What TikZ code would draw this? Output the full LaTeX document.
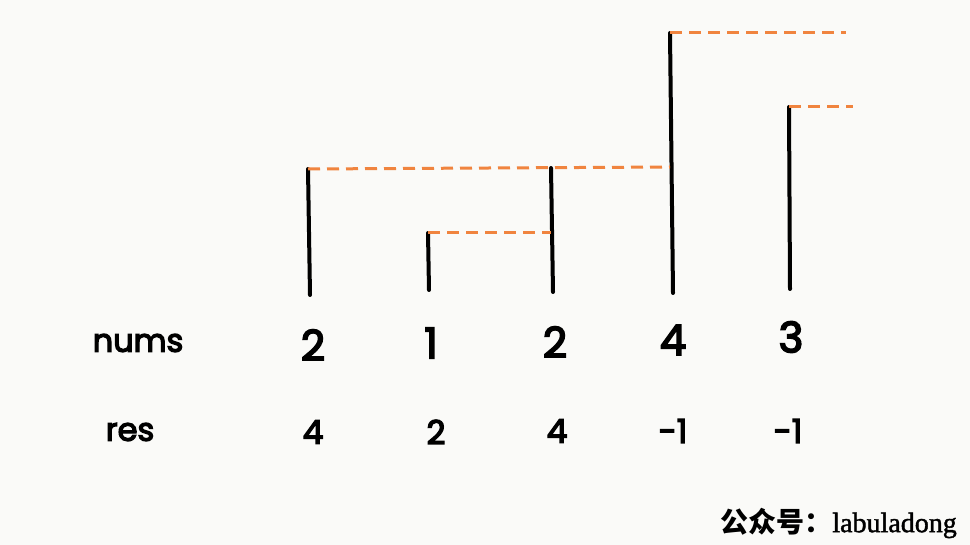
\documentclass[tikz,border=0pt]{standalone}
\usepackage{fontspec}
\setmainfont{Poppins}
\newfontfamily\labfont[FakeBold=4]{Poppins}
\newfontfamily\cjk{Noto Sans CJK SC}
\newfontfamily\wmfont[FakeBold=1.5]{Liberation Serif}
\definecolor{bg}{HTML}{FAFAF8}
\definecolor{dashorange}{HTML}{F0843F}
\begin{document}
\begin{tikzpicture}[x=1pt,y=-1pt,
  bar/.style={line width=4pt,black,line cap=round},
  nextline/.style={line width=3pt,dashorange,dash pattern=on 12pt off 7pt},
  numlabel/.style={font=\fontsize{42}{42}\selectfont\labfont,inner sep=0pt},
  reslabel/.style={font=\fontsize{33}{33}\selectfont\labfont,inner sep=0pt},
  rowlabel/.style={font=\fontsize{32}{32}\selectfont\labfont,inner sep=0pt}]
\fill[bg] (0,0) rectangle (970,545);
\useasboundingbox (0,0) rectangle (970,545);
% bars
\coordinate (t1) at (308,169); \coordinate (b1) at (310,295);
\coordinate (t2) at (428,233); \coordinate (b2) at (429,290);
\coordinate (t3) at (551,168); \coordinate (b3) at (553,292);
\coordinate (t4) at (670,33);  \coordinate (b4) at (673,293);
\coordinate (t5) at (789,107); \coordinate (b5) at (790,289);
\draw[bar] (t1) -- (b1);
\draw[bar] (t2) -- (b2);
\draw[bar] (t3) -- (b3);
\draw[bar] (t4) -- (b4);
\draw[bar] (t5) -- (b5);
% next greater connectors
\coordinate (h1) at (670,167);
\coordinate (h2) at (551,233);
\coordinate (e4) at (846,33);
\coordinate (e5) at (853,107);
\draw[nextline] (t1) -- (h1);
\draw[nextline] (t2) -- (h2);
\draw[nextline] (t4) -- (e4);
\draw[nextline] (t5) -- (e5);
% labels
\node[rowlabel] (lnums) at (138,343) {nums};
\node[rowlabel] (lres) at (130,432) {res};
\node[numlabel] (n1) at (313,345) {2};
\node[numlabel] (n2) at (431,343) {1};
\node[numlabel] (n3) at (555,342) {2};
\node[numlabel] (n4) at (673,340) {4};
\node[numlabel] (n5) at (791,337) {3};
\node[reslabel] (r1) at (313,432) {4};
\node[reslabel] (r2) at (436,432) {2};
\node[reslabel] (r3) at (557,431) {4};
\node[reslabel] (r4) at (673,431) {-1};
\node[reslabel] (r5) at (788,431) {-1};
\node[anchor=east,inner sep=0pt,font=\fontsize{28}{28}\selectfont] (wm) at (957,523) {{\cjk\bfseries 公众号：}{\wmfont labuladong}};
\end{tikzpicture}
\end{document}
